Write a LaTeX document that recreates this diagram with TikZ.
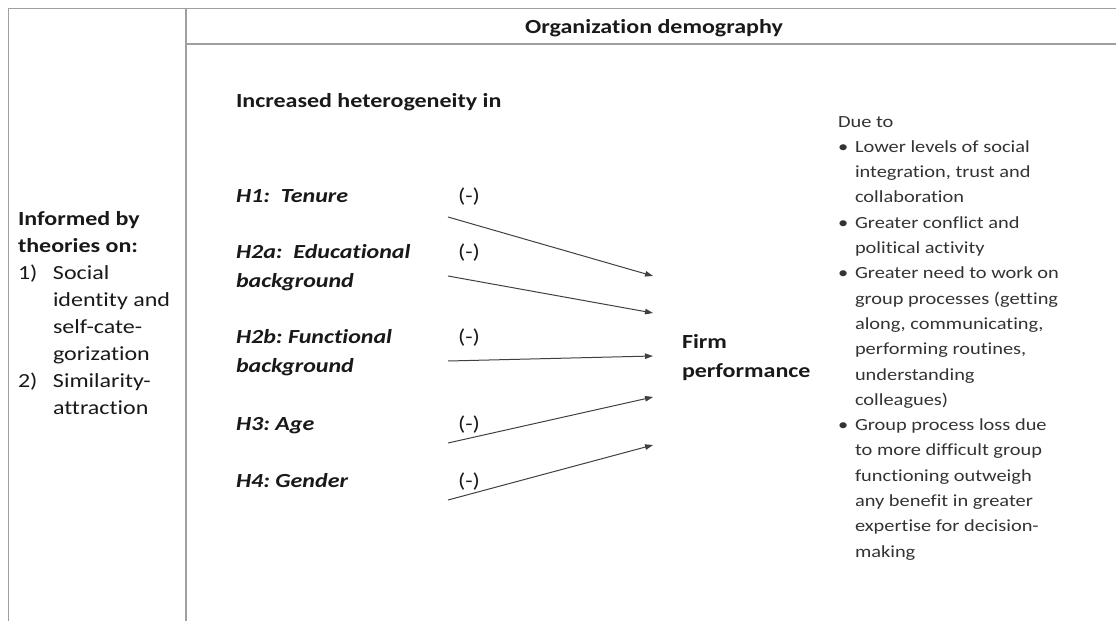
\documentclass[tikz,border=0pt]{standalone}
\usepackage{fontspec}
\setmainfont[FakeStretch=1.2,Ligatures={NoCommon}]{Carlito}
\usetikzlibrary{arrows.meta}

\begin{document}
\frenchspacing
\begin{tikzpicture}[x=1pt,y=-1pt]
    \tikzstyle{every node}=[inner sep=0pt,outer sep=0pt,text=black!90]
    \tikzstyle{frameline}=[draw=gray!75,line width=1.6pt]
    \tikzstyle{heading}=[anchor=base,font=\fontsize{20}{27}\selectfont\bfseries]
    \tikzstyle{hyp}=[anchor=base west,font=\fontsize{20}{29}\selectfont\bfseries\itshape]
    \tikzstyle{sign}=[anchor=base west,font=\fontsize{20}{29}\selectfont]
    \tikzstyle{link}=[draw=black!75,line width=1pt,-{Triangle[length=8pt,width=5.5pt]}]
    \useasboundingbox (0,0) rectangle (1116,621);

    % frame
    \draw[frameline] (1116,8.5) -- (8.5,8.5) -- (8.5,621);
    \draw[frameline] (186,8.5) -- (186,621);
    \draw[frameline] (186,44) -- (1116,44);

    \node[heading] (orgdem) at (654,33) {Organization demography};
    \node[heading,anchor=base west] (incr) at (236,107) {Increased heterogeneity in};

    % theories column
    \node[anchor=base west,font=\fontsize{20}{27}\selectfont] (theory) at (18,225)
      {\begin{tabular}[t]{@{}p{35pt}@{}l@{}}
        \multicolumn{2}{@{}l@{}}{\textbf{Informed by}}\\
        \multicolumn{2}{@{}l@{}}{\textbf{theories on:}}\\
        1) & Social\\
           & identity and\\
           & self-cate-\\
           & gorization\\
        2) & Similarity-\\
           & attraction
      \end{tabular}};

    % hypotheses
    \node[hyp] (h1) at (236,202) {H1:\ \ Tenure};
    \node[hyp] (h2a) at (236,258) {\begin{tabular}[t]{@{}l@{}}H2a:\ \ Educational\\ background\end{tabular}};
    \node[hyp] (h2b) at (236,343) {\begin{tabular}[t]{@{}l@{}}H2b: Functional\\ background\end{tabular}};
    \node[hyp] (h3) at (236,430) {H3: Age};
    \node[hyp] (h4) at (236,487) {H4: Gender};

    \node[sign] (m1) at (458,202) {(-)};
    \node[sign] (m2a) at (458,258) {(-)};
    \node[sign] (m2b) at (458,343) {(-)};
    \node[sign] (m3) at (458,430) {(-)};
    \node[sign] (m4) at (458,487) {(-)};

    \node[hyp,font=\fontsize{20}{29}\selectfont\bfseries] (firm) at (682,348)
      {\begin{tabular}[t]{@{}l@{}}Firm\\ performance\end{tabular}};

    % arrows
    \coordinate (s1) at (448,217);  \coordinate (t1) at (653,276);
    \coordinate (s2a) at (448,276); \coordinate (t2a) at (653,313);
    \coordinate (s2b) at (448,361); \coordinate (t2b) at (653,356);
    \coordinate (s3) at (448,443);  \coordinate (t3) at (653,397);
    \coordinate (s4) at (448,500);  \coordinate (t4) at (653,445);
    \foreach \h in {1,2a,2b,3,4}
      \draw[link] (s\h) -- (t\h);

    % reasons
    \node[anchor=base west,text=black!80,font=\fontsize{17}{25.3}\selectfont] (reasons) at (838,127)
      {\begin{tabular}[t]{@{}p{17pt}@{}l@{}}
        \multicolumn{2}{@{}l@{}}{Due to}\\
        \textbullet & Lower levels of social\\
                    & integration, trust and\\
                    & collaboration\\
        \textbullet & Greater conflict and\\
                    & political activity\\
        \textbullet & Greater need to work on\\
                    & group processes (getting\\
                    & along, communicating,\\
                    & performing routines,\\
                    & understanding\\
                    & colleagues)\\
        \textbullet & Group process loss due\\
                    & to more difficult group\\
                    & functioning outweigh\\
                    & any benefit in greater\\
                    & expertise for decision-\\
                    & making
      \end{tabular}};
\end{tikzpicture}
\end{document}
